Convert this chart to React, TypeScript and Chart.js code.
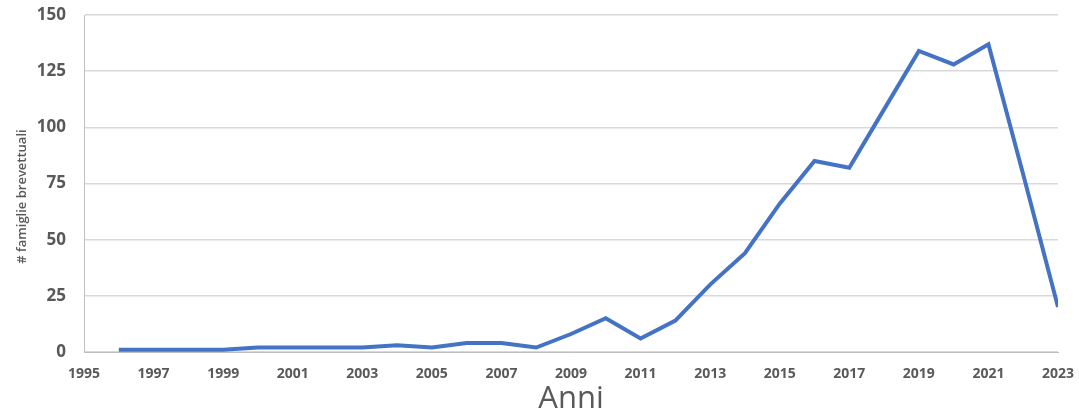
import React, { useEffect, useRef } from "react";
import { Chart, registerables } from "chart.js";

Chart.register(...registerables);

const years = [1996, 1997, 1998, 1999, 2000, 2001, 2002, 2003, 2004, 2005, 2006, 2007, 2008, 2009, 2010, 2011, 2012, 2013, 2014, 2015, 2016, 2017, 2018, 2019, 2020, 2021, 2022, 2023];
const families = [1, 1, 1, 1, 2, 2, 2, 2, 3, 2, 4, 4, 2, 8, 15, 6, 14, 30, 44, 66, 85, 82, 108, 134, 128, 137, 79, 20];
const yTicks = [0, 25, 50, 75, 100, 125, 150];
const xTitle = "Anni";
const yTitle = "# famiglie brevettuali";

const gray = "#595959";

const yTitlePlugin = {
  id: "yTitlePlugin",
  afterDraw(chart: any) {
    const { ctx, chartArea } = chart;
    ctx.save();
    ctx.translate(22, (chartArea.top + chartArea.bottom) / 2 + 13);
    ctx.rotate(-Math.PI / 2);
    ctx.fillStyle = gray;
    ctx.font = "600 13px 'Open Sans'";
    ctx.textAlign = "center";
    ctx.textBaseline = "middle";
    ctx.fillText(yTitle, 0, 0);
    ctx.restore();
  },
};

export default function App() {
  const ref = useRef<HTMLCanvasElement | null>(null);
  useEffect(() => {
    document.body.style.margin = "0";
    const ctx = ref.current!;
    const chart = new Chart(ctx, {
      type: "line",
      data: {
        datasets: [
          {
            data: years.map((y, i) => ({ x: y, y: families[i] })),
            borderColor: "#4472C4",
            borderWidth: 4,
            pointRadius: 0,
            tension: 0,
            fill: false,
          },
        ],
      },
      plugins: [yTitlePlugin],
      options: {
        animation: false,
        responsive: false,
        maintainAspectRatio: false,
        layout: { padding: { left: 0, right: 21, top: 15, bottom: 0 } },
        plugins: { legend: { display: false }, tooltip: { enabled: false } },
        scales: {
          x: {
            type: "linear",
            min: 1995,
            max: 2023,
            afterFit: (s: any) => { s.height = 66; s.paddingLeft = 0; s.paddingRight = 0; },
            afterBuildTicks: (s: any) => {
              const t = [];
              for (let v = 1995; v <= 2023; v += 2) t.push({ value: v });
              s.ticks = t;
            },
            ticks: {
              autoSkip: false,
              maxRotation: 0,
              color: gray,
              padding: 14,
              font: { family: "Open Sans", size: 14, weight: "bold" },
              callback: (v: any) => String(v),
            },
            grid: { display: false, drawTicks: false },
            border: { display: true, color: "#bfbfbf", width: 1 },
            title: {
              display: true,
              text: xTitle,
              color: gray,
              font: { family: "Open Sans", size: 31 },
              padding: { top: 0, bottom: 0 },
            },
          },
          y: {
            min: 0,
            max: 150,
            afterFit: (s: any) => { s.width = 84; s.paddingTop = 0; s.paddingBottom = 0; },
            afterBuildTicks: (s: any) => { s.ticks = yTicks.map((v) => ({ value: v })); },
            ticks: {
              color: gray,
              padding: 18,
              font: { family: "Open Sans", size: 17, weight: "bold" },
            },
            grid: { color: "#d9d9d9", lineWidth: 1.5, drawTicks: false },
            border: { display: true, color: "#bfbfbf", width: 1 },
          },
        },
      },
    });
    return () => chart.destroy();
  }, []);
  return (
    <div style={{ position: "absolute", left: 0, top: 0, width: 1079, height: 418, background: "#fff" }}>
      <canvas ref={ref} width={1079} height={418} />
    </div>
  );
}
